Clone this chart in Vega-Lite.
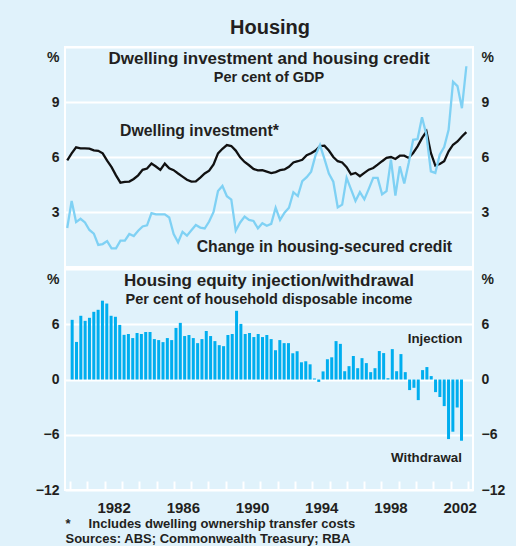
{
  "$schema": "https://vega.github.io/schema/vega-lite/v6.json",
  "background": "#E0F2FB",
  "padding": {"left": 34, "top": 18, "right": 10, "bottom": 0},
  "title": {"text": "Housing", "fontSize": 20, "anchor": "middle", "offset": 8},
  "datasets": {
    "q": [
      {"t": 1980.125, "dw": 5.82, "cr": 2.13, "eq": 6.48},
      {"t": 1980.375, "dw": 6.2, "cr": 3.6, "eq": 4.08},
      {"t": 1980.625, "dw": 6.53, "cr": 2.45, "eq": 6.92},
      {"t": 1980.875, "dw": 6.47, "cr": 2.63, "eq": 6.37},
      {"t": 1981.125, "dw": 6.47, "cr": 2.43, "eq": 6.7},
      {"t": 1981.375, "dw": 6.46, "cr": 2.02, "eq": 7.35},
      {"t": 1981.625, "dw": 6.36, "cr": 1.82, "eq": 7.57},
      {"t": 1981.875, "dw": 6.34, "cr": 1.2, "eq": 8.56},
      {"t": 1982.125, "dw": 6.2, "cr": 1.25, "eq": 8.25},
      {"t": 1982.375, "dw": 5.8, "cr": 1.41, "eq": 6.92},
      {"t": 1982.625, "dw": 5.45, "cr": 1.02, "eq": 6.81},
      {"t": 1982.875, "dw": 5.0, "cr": 1.02, "eq": 5.93},
      {"t": 1983.125, "dw": 4.6, "cr": 1.44, "eq": 4.85},
      {"t": 1983.375, "dw": 4.64, "cr": 1.44, "eq": 4.94},
      {"t": 1983.625, "dw": 4.66, "cr": 1.8, "eq": 4.5},
      {"t": 1983.875, "dw": 4.8, "cr": 1.69, "eq": 5.05},
      {"t": 1984.125, "dw": 5.0, "cr": 1.98, "eq": 4.94},
      {"t": 1984.375, "dw": 5.3, "cr": 2.21, "eq": 5.16},
      {"t": 1984.625, "dw": 5.37, "cr": 2.27, "eq": 5.16},
      {"t": 1984.875, "dw": 5.64, "cr": 2.94, "eq": 4.39},
      {"t": 1985.125, "dw": 5.48, "cr": 2.87, "eq": 4.28},
      {"t": 1985.375, "dw": 5.3, "cr": 2.87, "eq": 4.06},
      {"t": 1985.625, "dw": 5.64, "cr": 2.87, "eq": 4.5},
      {"t": 1985.875, "dw": 5.38, "cr": 2.7, "eq": 4.28},
      {"t": 1986.125, "dw": 5.28, "cr": 1.8, "eq": 5.6},
      {"t": 1986.375, "dw": 5.1, "cr": 1.35, "eq": 6.15},
      {"t": 1986.625, "dw": 4.93, "cr": 1.92, "eq": 4.72},
      {"t": 1986.875, "dw": 4.76, "cr": 1.71, "eq": 4.83},
      {"t": 1987.125, "dw": 4.66, "cr": 2.0, "eq": 4.5},
      {"t": 1987.375, "dw": 4.67, "cr": 2.29, "eq": 3.95},
      {"t": 1987.625, "dw": 4.88, "cr": 2.15, "eq": 4.39},
      {"t": 1987.875, "dw": 5.1, "cr": 2.1, "eq": 5.27},
      {"t": 1988.125, "dw": 5.25, "cr": 2.48, "eq": 4.72},
      {"t": 1988.375, "dw": 5.6, "cr": 3.0, "eq": 4.17},
      {"t": 1988.625, "dw": 6.2, "cr": 4.15, "eq": 3.73},
      {"t": 1988.875, "dw": 6.45, "cr": 4.42, "eq": 3.62},
      {"t": 1989.125, "dw": 6.65, "cr": 3.86, "eq": 4.83},
      {"t": 1989.375, "dw": 6.6, "cr": 3.68, "eq": 4.94},
      {"t": 1989.625, "dw": 6.35, "cr": 1.98, "eq": 7.46},
      {"t": 1989.875, "dw": 5.98, "cr": 2.43, "eq": 6.04},
      {"t": 1990.125, "dw": 5.73, "cr": 2.75, "eq": 4.94},
      {"t": 1990.375, "dw": 5.55, "cr": 2.57, "eq": 5.05},
      {"t": 1990.625, "dw": 5.35, "cr": 2.51, "eq": 4.61},
      {"t": 1990.875, "dw": 5.27, "cr": 2.11, "eq": 4.94},
      {"t": 1991.125, "dw": 5.28, "cr": 2.39, "eq": 4.61},
      {"t": 1991.375, "dw": 5.2, "cr": 2.25, "eq": 4.83},
      {"t": 1991.625, "dw": 5.12, "cr": 2.35, "eq": 4.39},
      {"t": 1991.875, "dw": 5.18, "cr": 3.23, "eq": 3.18},
      {"t": 1992.125, "dw": 5.28, "cr": 2.57, "eq": 4.28},
      {"t": 1992.375, "dw": 5.32, "cr": 2.96, "eq": 3.95},
      {"t": 1992.625, "dw": 5.47, "cr": 3.23, "eq": 3.95},
      {"t": 1992.875, "dw": 5.7, "cr": 4.08, "eq": 2.85},
      {"t": 1993.125, "dw": 5.77, "cr": 3.87, "eq": 3.07},
      {"t": 1993.375, "dw": 5.85, "cr": 4.68, "eq": 1.87},
      {"t": 1993.625, "dw": 6.1, "cr": 4.9, "eq": 1.98},
      {"t": 1993.875, "dw": 6.2, "cr": 5.2, "eq": 1.65},
      {"t": 1994.125, "dw": 6.35, "cr": 6.1, "eq": 0.11},
      {"t": 1994.375, "dw": 6.6, "cr": 6.65, "eq": -0.26},
      {"t": 1994.625, "dw": 6.62, "cr": 5.9, "eq": 0.88},
      {"t": 1994.875, "dw": 6.35, "cr": 5.1, "eq": 2.2},
      {"t": 1995.125, "dw": 6.0, "cr": 4.65, "eq": 2.41},
      {"t": 1995.375, "dw": 5.77, "cr": 3.25, "eq": 4.17},
      {"t": 1995.625, "dw": 5.7, "cr": 3.4, "eq": 3.87},
      {"t": 1995.875, "dw": 5.45, "cr": 4.86, "eq": 0.9},
      {"t": 1996.125, "dw": 5.05, "cr": 4.23, "eq": 1.45},
      {"t": 1996.375, "dw": 5.13, "cr": 3.6, "eq": 2.55},
      {"t": 1996.625, "dw": 4.95, "cr": 4.08, "eq": 1.23},
      {"t": 1996.875, "dw": 5.13, "cr": 3.69, "eq": 2.32},
      {"t": 1997.125, "dw": 5.31, "cr": 4.26, "eq": 1.78},
      {"t": 1997.375, "dw": 5.4, "cr": 4.86, "eq": 0.8},
      {"t": 1997.625, "dw": 5.58, "cr": 4.86, "eq": 1.23},
      {"t": 1997.875, "dw": 5.77, "cr": 3.96, "eq": 3.09},
      {"t": 1998.125, "dw": 5.95, "cr": 4.14, "eq": 2.87},
      {"t": 1998.375, "dw": 6.0, "cr": 5.86, "eq": 0.14},
      {"t": 1998.625, "dw": 5.89, "cr": 3.9, "eq": 3.3},
      {"t": 1998.875, "dw": 6.07, "cr": 5.49, "eq": 0.9},
      {"t": 1999.125, "dw": 6.07, "cr": 4.55, "eq": 2.76},
      {"t": 1999.375, "dw": 5.95, "cr": 5.67, "eq": 0.8},
      {"t": 1999.625, "dw": 6.22, "cr": 6.94, "eq": -1.15},
      {"t": 1999.875, "dw": 6.58, "cr": 6.98, "eq": -0.9},
      {"t": 2000.125, "dw": 7.03, "cr": 8.17, "eq": -2.24},
      {"t": 2000.375, "dw": 7.39, "cr": 7.21, "eq": 1.02},
      {"t": 2000.625, "dw": 6.22, "cr": 5.22, "eq": 1.35},
      {"t": 2000.875, "dw": 5.53, "cr": 5.13, "eq": 0.37},
      {"t": 2001.125, "dw": 5.62, "cr": 6.13, "eq": -1.37},
      {"t": 2001.375, "dw": 5.77, "cr": 6.54, "eq": -1.9},
      {"t": 2001.625, "dw": 6.31, "cr": 7.48, "eq": -2.89},
      {"t": 2001.875, "dw": 6.67, "cr": 10.1, "eq": -6.47},
      {"t": 2002.125, "dw": 6.85, "cr": 9.87, "eq": -5.67},
      {"t": 2002.375, "dw": 7.12, "cr": 8.66, "eq": -3.04},
      {"t": 2002.625, "dw": 7.36, "cr": 10.95, "eq": -6.65}
    ],
    "lab1": [
      {"label": "Dwelling investment*", "t": 1987.58, "v": 7.42},
      {"label": "Change in housing-secured credit", "t": 1994.62, "v": 1.09}
    ],
    "lab2": [
      {"label": "Injection", "t": 2001.1, "v": 4.43},
      {"label": "Withdrawal", "t": 2000.6, "v": -8.57}
    ]
  },
  "spacing": 0,
  "vconcat": [
    {
      "width": 408,
      "height": 220,
      "title": {"text": "Dwelling investment and housing credit", "subtitle": "Per cent of GDP", "offset": -38},
      "encoding": {
        "x": {"field": "t", "type": "quantitative", "scale": {"domain": [1980, 2003], "nice": false, "zero": false}, "axis": null}
      },
      "layer": [
        {
          "data": {"name": "q"},
          "mark": {"type": "line", "color": "#111111", "strokeWidth": 2.3},
          "encoding": {
            "y": {"field": "dw", "type": "quantitative", "scale": {"domain": [0, 12], "nice": false},
              "axis": {"orient": "left", "title": null, "values": [3, 6, 9, 12], "grid": true, "gridColor": "white", "gridWidth": 2, "labelPadding": 6,
                "labelExpr": "datum.value == 12 ? '%' : datum.label",
                "labelOffset": {"condition": {"test": "datum.value == 12", "value": 10}, "value": 0}}}
          }
        },
        {
          "data": {"name": "q"},
          "mark": {"type": "line", "color": "#7FD1F4", "strokeWidth": 2.3},
          "encoding": {
            "y": {"field": "cr", "type": "quantitative", "scale": {"domain": [0, 12], "nice": false},
              "axis": {"orient": "right", "title": null, "values": [3, 6, 9, 12], "grid": false, "labelPadding": 8,
                "labelExpr": "datum.value == 12 ? '%' : datum.label",
                "labelOffset": {"condition": {"test": "datum.value == 12", "value": 10}, "value": 0}}}
          }
        },
        {
          "data": {"name": "lab1"},
          "mark": {"type": "text", "fontSize": 15.8, "fontWeight": "bold", "font": "Liberation Sans", "color": "#231F20", "align": "center", "baseline": "middle"},
          "encoding": {
            "y": {"field": "v", "type": "quantitative", "scale": {"domain": [0, 12], "nice": false}, "axis": null},
            "text": {"field": "label"}
          }
        }
      ],
      "resolve": {"axis": {"y": "independent"}}
    },
    {
      "width": 408,
      "height": 221,
      "title": {"text": "Housing equity injection/withdrawal", "subtitle": "Per cent of household disposable income", "offset": -38},
      "encoding": {
        "x": {"field": "t", "type": "quantitative", "scale": {"domain": [1980, 2003], "nice": false, "zero": false},
          "axis": {"orient": "bottom", "offset": -9,
            "values": [1980, 1981, 1982, 1983, 1984, 1985, 1986, 1987, 1988, 1989, 1990, 1991, 1992, 1993, 1994, 1995, 1996, 1997, 1998, 1999, 2000, 2001, 2002, 2003],
            "format": "d",
            "labelExpr": "(datum.value - 1982) % 4 == 0 ? datum.label : ''",
            "labelOffset": 9, "labelFlush": false, "labelOverlap": false, "labelFontSize": 15, "labelPadding": 10,
            "ticks": true, "tickSize": 9, "tickColor": "white", "tickWidth": 2, "grid": false, "domain": false,
            "title": ["*\u00a0\u00a0\u00a0\u00a0\u00a0Includes dwelling ownership transfer costs", "Sources: ABS; Commonwealth Treasury; RBA"],
            "titleAnchor": "start", "titleAlign": "left", "titleFontSize": 13, "titleFontWeight": "bold", "titleFont": "Liberation Sans", "titleColor": "#231F20", "titleLineHeight": 15, "titlePadding": 2}}
      },
      "layer": [
        {
          "data": {"name": "q"},
          "mark": {"type": "bar", "color": "#00AEEF", "width": 3},
          "encoding": {
            "y": {"field": "eq", "type": "quantitative", "scale": {"domain": [-12, 12], "nice": false},
              "axis": {"orient": "left", "title": null, "values": [-12, -6, 0, 6, 12], "grid": true, "gridColor": "white", "gridWidth": 2, "labelPadding": 6,
                "labelExpr": "datum.value == 12 ? '%' : datum.label",
                "labelOffset": {"condition": {"test": "datum.value == 12", "value": 10}, "value": 0}}}
          }
        },
        {
          "data": {"name": "lab2"},
          "mark": {"type": "text", "fontSize": 13.3, "fontWeight": "bold", "font": "Liberation Sans", "color": "#231F20", "align": "center", "baseline": "middle"},
          "encoding": {
            "y": {"field": "v", "type": "quantitative", "scale": {"domain": [-12, 12], "nice": false},
              "axis": {"orient": "right", "title": null, "values": [-12, -6, 0, 6, 12], "grid": false, "labelPadding": 8,
                "labelExpr": "datum.value == 12 ? '%' : datum.label",
                "labelOffset": {"condition": {"test": "datum.value == 12", "value": 10}, "value": 0}}},
            "text": {"field": "label"}
          }
        }
      ],
      "resolve": {"axis": {"y": "independent"}}
    }
  ],
  "config": {
    "font": "Liberation Sans",
    "view": {"stroke": "white", "strokeWidth": 2},
    "axis": {"labelFont": "Liberation Sans", "labelFontWeight": "bold", "labelColor": "#231F20", "labelFontSize": 14, "domain": false, "ticks": false},
    "title": {"font": "Liberation Sans", "fontWeight": "bold", "color": "#231F20", "fontSize": 17, "subtitleFont": "Liberation Sans", "subtitleFontWeight": "bold", "subtitleColor": "#231F20", "subtitleFontSize": 14.5, "subtitlePadding": 0, "anchor": "middle"}
  }
}
